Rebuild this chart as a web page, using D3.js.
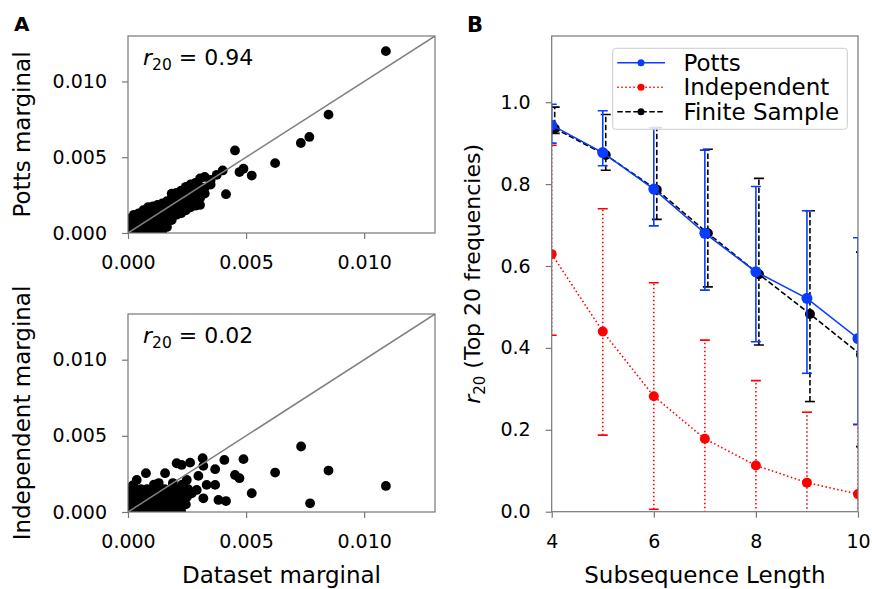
<!DOCTYPE html>
<html>
<head>
<meta charset="utf-8">
<title>Potts vs Independent marginals</title>
<style type="text/css">
    body { margin: 0; background: #fff; }
    text { font-family: "DejaVu Sans", sans-serif; fill: #000; }
</style>
</head>
<body>
<script src="https://d3js.org/d3.v7.min.js"></script>
<script>

    // ---- panel A data: (dataset marginal, model marginal), in units of 1e-3 ----
    var pottsScatter = [
        [0.05,0.05],[0.05,0.35],[0.05,0.65],[0.05,0.95],
        [0.25,0.05],[0.25,0.35],[0.25,0.65],[0.25,0.95],[0.25,1.2],
        [0.45,0.05],[0.45,0.35],[0.45,0.65],[0.45,0.95],[0.45,1.3],
        [0.65,0.05],[0.65,0.35],[0.65,0.65],[0.65,0.95],[0.65,1.3],[0.65,1.5],
        [0.85,0.05],[0.85,0.35],[0.85,0.65],[0.85,0.95],[0.85,1.3],[0.85,1.7],
        [1.05,0.05],[1.05,0.4],[1.05,0.75],[1.05,1.1],[1.05,1.45],[1.05,1.75],
        [1.25,0.1],[1.25,0.45],[1.25,0.8],[1.25,1.15],[1.25,1.5],[1.25,1.85],
        [1.45,0.1],[1.45,0.4],[1.45,0.75],[1.45,1.1],[1.45,1.45],[1.45,1.8],[1.45,1.95],
        [1.65,0.4],[1.65,0.75],[1.65,1.1],[1.65,1.45],[1.65,1.8],[1.65,2.1],
        [1.85,0.85],[1.85,1.2],[1.85,1.55],[1.85,1.9],[1.85,2.3],[1.85,2.6],
        [2.05,1.2],[2.05,1.55],[2.05,1.9],[2.05,2.25],[2.05,2.65],
        [2.25,1.3],[2.25,1.65],[2.25,2.0],[2.25,2.35],[2.25,2.8],
        [2.45,1.5],[2.45,1.85],[2.45,2.2],[2.45,2.6],[2.45,3.05],
        [2.65,1.7],[2.65,2.0],[2.65,2.35],[2.65,2.7],[2.65,3.2],
        [2.85,1.8],[2.85,2.15],[2.85,2.5],[2.85,2.9],[2.85,3.3],
        [3.05,1.85],[3.05,2.3],[3.05,2.7],[3.05,3.0],[3.05,3.6],
        [3.25,2.6],[3.25,3.0],[3.25,3.7],
        [3.5,3.2],[3.5,3.5],
        [3.76,3.84],[4.01,4.13],[4.15,2.56],[4.53,5.45],[4.72,4.02],[4.89,4.24],
        [5.24,3.79],[6.23,4.61],[7.32,5.94],[7.68,6.34],[8.49,7.81],[10.92,12.0]
    ];
    var indepScatter = [
        [0.05,0.05],[0.05,0.4],[0.05,0.75],[0.05,1.1],[0.05,1.5],
        [0.3,0.05],[0.3,0.4],[0.3,0.75],[0.3,1.1],[0.3,1.5],
        [0.55,0.05],[0.55,0.4],[0.55,0.75],[0.55,1.1],[0.55,1.5],
        [0.8,0.05],[0.8,0.4],[0.8,0.75],[0.8,1.1],[0.8,1.5],
        [1.05,0.05],[1.05,0.4],[1.05,0.75],[1.05,1.1],[1.05,1.5],
        [1.3,0.05],[1.3,0.4],[1.3,0.75],[1.3,1.1],[1.3,1.5],
        [1.55,0.05],[1.55,0.4],[1.55,0.75],[1.55,1.1],[1.55,1.5],
        [1.8,0.05],[1.8,0.4],[1.8,0.75],[1.8,1.1],[1.8,1.5],
        [2.05,0.05],[2.05,0.4],[2.05,0.75],[2.05,1.1],[2.05,1.5],
        [2.25,0.05],[2.25,0.4],[2.25,0.75],[2.25,1.1],[2.25,1.5],
        [0.2,1.75],[0.37,2.1],[0.76,2.55],[1.1,1.8],[1.3,1.9],[1.57,2.55],
        [1.9,1.9],[2.06,3.2],[2.27,3.09],[2.3,1.8],[2.49,2.1],[2.63,3.24],
        [2.45,0.5],[2.5,1.0],[2.55,1.5],[2.7,1.23],[2.91,1.45],[2.98,2.37],
        [3.19,3.03],[3.16,3.53],[3.19,0.9],[3.33,1.78],[3.69,1.78],[3.69,2.81],
        [3.83,0.79],[4.08,3.42],[4.15,0.72],[4.53,2.43],[4.72,2.22],[4.89,3.47],
        [5.24,1.23],[6.23,2.59],[7.33,4.30],[7.71,0.57],[8.49,2.72],[10.92,1.71]
    ];
    var marginalTicks = [0, 0.005, 0.010];

    // ---- panel B data ----
    var lengths    = [4, 5, 6, 7, 8, 9, 10];
    var pottsMean  = [0.944, 0.877, 0.788, 0.680, 0.586, 0.521, 0.423];
    var pottsLo    = [0.900, 0.845, 0.698, 0.541, 0.415, 0.338, 0.213];
    var pottsHi    = [0.995, 0.979, 0.938, 0.883, 0.794, 0.735, 0.669];
    var indepMean  = [0.629, 0.440, 0.282, 0.178, 0.113, 0.071, 0.043];
    var indepLo    = [0.431, 0.187, 0.006, -0.05, -0.08, -0.10, -0.12];
    var indepHi    = [0.895, 0.740, 0.559, 0.419, 0.320, 0.243, 0.213];
    var finiteMean = [0.936, 0.871, 0.786, 0.680, 0.580, 0.483, 0.383];
    var finiteLo   = [0.924, 0.834, 0.714, 0.549, 0.407, 0.269, 0.159];
    var finiteHi   = [0.988, 0.970, 0.938, 0.885, 0.814, 0.735, 0.634];
    var lengthTicks = [4, 6, 8, 10];
    var rTicks = [0, 0.2, 0.4, 0.6, 0.8, 1.0];

    var axisColor = "#777";

    var svg = d3.select("body").append("svg")
        .attr("width", 872)
        .attr("height", 589);

    function styleAxis(g) {
        g.selectAll("path").remove();
        g.selectAll("line").attr("stroke", axisColor).attr("stroke-width", 1.2);
        g.selectAll("text").style("font-size", "19px").attr("fill", "#000");
    }

    // ---------- panel A ----------
    var ax = {left: 128, right: 435};
    var xA = d3.scaleLinear().domain([0, 0.013]).range([ax.left, ax.right]);

    function scatterPanel(data, top, bottom, ylabel, rValue, id) {
        var yA = d3.scaleLinear().domain([0, 0.013]).range([bottom, top]);

        svg.append("clipPath").attr("id", id)
            .append("rect")
            .attr("x", ax.left).attr("y", top)
            .attr("width", ax.right - ax.left).attr("height", bottom - top);

        var plot = svg.append("g").attr("clip-path", "url(#" + id + ")");
        plot.selectAll("circle")
            .data(data)
            .enter().append("circle")
            .attr("cx", function(d) { return xA(d[0] / 1000); })
            .attr("cy", function(d) { return yA(d[1] / 1000); })
            .attr("r", 4.9)
            .attr("fill", "#000");

        // identity line
        plot.append("line")
            .attr("x1", xA(0)).attr("y1", yA(0))
            .attr("x2", xA(0.013)).attr("y2", yA(0.013))
            .attr("stroke", "#808080")
            .attr("stroke-width", 1.5);

        svg.append("rect")
            .attr("x", ax.left).attr("y", top)
            .attr("width", ax.right - ax.left).attr("height", bottom - top)
            .attr("fill", "none").attr("stroke", axisColor).attr("stroke-width", 1.2);

        svg.append("g")
            .attr("transform", "translate(0," + bottom + ")")
            .call(d3.axisBottom(xA).tickValues(marginalTicks).tickFormat(d3.format(".3f"))
                .tickSize(6).tickSizeOuter(0).tickPadding(17))
            .call(styleAxis);

        svg.append("g")
            .attr("transform", "translate(" + ax.left + ",0)")
            .call(d3.axisLeft(yA).tickValues(marginalTicks).tickFormat(d3.format(".3f"))
                .tickSize(6).tickSizeOuter(0).tickPadding(15))
            .call(styleAxis);

        svg.append("text")
            .attr("transform", "translate(30," + (top + bottom) / 2 + ") rotate(-90)")
            .attr("text-anchor", "middle")
            .style("font-size", "23px")
            .text(ylabel);

        var t = svg.append("text")
            .attr("x", 143).attr("y", top + 29)
            .style("font-size", "22px");
        t.append("tspan").style("font-style", "italic").text("r");
        t.append("tspan").attr("dy", 5).style("font-size", "15.5px").text("20");
        t.append("tspan").attr("dy", -5).text(" = " + rValue);
    }

    scatterPanel(pottsScatter, 36, 233, "Potts marginal", "0.94", "clipA1");
    scatterPanel(indepScatter, 314, 512, "Independent marginal", "0.02", "clipA2");

    svg.append("text")
        .attr("x", (ax.left + ax.right) / 2).attr("y", 583)
        .attr("text-anchor", "middle")
        .style("font-size", "23px")
        .text("Dataset marginal");

    svg.append("text")
        .attr("x", 14).attr("y", 31)
        .style("font-size", "20px").style("font-weight", "bold")
        .text("A");

    // ---------- panel B ----------
    var bx = {left: 551.7, right: 858, top: 36, bottom: 511.7};
    var xB = d3.scaleLinear().domain([4, 10]).range([bx.left, bx.right]);
    var yB = d3.scaleLinear().domain([0, 1.1617]).range([bx.bottom, bx.top]);

    svg.append("clipPath").attr("id", "clipB")
        .append("rect")
        .attr("x", bx.left).attr("y", bx.top)
        .attr("width", bx.right - bx.left).attr("height", bx.bottom - bx.top);

    var plotB = svg.append("g").attr("clip-path", "url(#clipB)");

    var series = [
        {name: "Independent", mean: indepMean, lo: indepLo, hi: indepHi,
         color: "#ff0000", dash: "1.5,2.5", r: 5, shift: 0},
        {name: "Finite Sample", mean: finiteMean, lo: finiteLo, hi: finiteHi,
         color: "#000000", dash: "5.5,2.5", r: 5, shift: 3},
        {name: "Potts", mean: pottsMean, lo: pottsLo, hi: pottsHi,
         color: "#0a3cff", dash: null, r: 5.5, shift: 0}
    ];

    series.forEach(function(s) {
        var g = plotB.append("g").attr("transform", "translate(" + s.shift + ",0)");
        var rows = lengths.map(function(L, i) {
            return {x: L, m: s.mean[i], lo: s.lo[i], hi: s.hi[i]};
        });

        // error bars
        g.selectAll(".bar").data(rows).enter().append("line")
            .attr("x1", function(d) { return xB(d.x); })
            .attr("x2", function(d) { return xB(d.x); })
            .attr("y1", function(d) { return yB(d.lo); })
            .attr("y2", function(d) { return yB(d.hi); })
            .attr("stroke", s.color).attr("stroke-width", 1.6)
            .attr("stroke-dasharray", s.dash);
        ["lo", "hi"].forEach(function(k) {
            g.selectAll(".cap-" + k).data(rows).enter().append("line")
                .attr("x1", function(d) { return xB(d.x) - 5; })
                .attr("x2", function(d) { return xB(d.x) + 5; })
                .attr("y1", function(d) { return yB(d[k]); })
                .attr("y2", function(d) { return yB(d[k]); })
                .attr("stroke", s.color).attr("stroke-width", 1.6);
        });

        // mean line and markers
        g.append("path")
            .datum(rows)
            .attr("d", d3.line().x(function(d) { return xB(d.x); }).y(function(d) { return yB(d.m); }))
            .attr("fill", "none")
            .attr("stroke", s.color).attr("stroke-width", 1.6)
            .attr("stroke-dasharray", s.dash);
        g.selectAll(".pt").data(rows).enter().append("circle")
            .attr("cx", function(d) { return xB(d.x); })
            .attr("cy", function(d) { return yB(d.m); })
            .attr("r", s.r)
            .attr("fill", s.color);
    });

    svg.append("rect")
        .attr("x", bx.left).attr("y", bx.top)
        .attr("width", bx.right - bx.left).attr("height", bx.bottom - bx.top)
        .attr("fill", "none").attr("stroke", axisColor).attr("stroke-width", 1.2);

    svg.append("g")
        .attr("transform", "translate(0," + bx.bottom + ")")
        .call(d3.axisBottom(xB).tickValues(lengthTicks).tickFormat(d3.format("d"))
            .tickSize(6).tickSizeOuter(0).tickPadding(17))
        .call(styleAxis);

    svg.append("g")
        .attr("transform", "translate(" + bx.left + ",0)")
        .call(d3.axisLeft(yB).tickValues(rTicks).tickFormat(d3.format(".1f"))
            .tickSize(6).tickSizeOuter(0).tickPadding(15))
        .call(styleAxis);

    svg.append("text")
        .attr("x", (bx.left + bx.right) / 2).attr("y", 583)
        .attr("text-anchor", "middle")
        .style("font-size", "23px")
        .text("Subsequence Length");

    var yl = svg.append("text")
        .attr("transform", "translate(480," + (bx.top + bx.bottom) / 2 + ") rotate(-90)")
        .attr("text-anchor", "middle")
        .style("font-size", "22px");
    yl.append("tspan").style("font-style", "italic").text("r");
    yl.append("tspan").attr("dy", 5).style("font-size", "15px").text("20");
    yl.append("tspan").attr("dy", -5).text(" (Top 20 frequencies)");

    svg.append("text")
        .attr("x", 467).attr("y", 32)
        .style("font-size", "21px").style("font-weight", "bold")
        .text("B");

    // legend
    var legendItems = [series[2], series[0], series[1]];
    var leg = svg.append("g");
    leg.append("rect")
        .attr("x", 612.7).attr("y", 48.3)
        .attr("width", 234.6).attr("height", 81)
        .attr("rx", 3)
        .attr("fill", "#fff").attr("fill-opacity", 0.85)
        .attr("stroke", "#ccc");
    legendItems.forEach(function(s, i) {
        var yy = 62.7 + i * 24.5;
        leg.append("line")
            .attr("x1", 617.3).attr("x2", 665)
            .attr("y1", yy).attr("y2", yy)
            .attr("stroke", s.color).attr("stroke-width", 1.6)
            .attr("stroke-dasharray", s.dash);
        leg.append("circle")
            .attr("cx", 641).attr("cy", yy).attr("r", 3.5)
            .attr("fill", s.color);
        leg.append("text")
            .attr("x", 683.5).attr("y", yy + 8)
            .style("font-size", "23px")
            .text(s.name);
    });

</script>
</body>
</html>
